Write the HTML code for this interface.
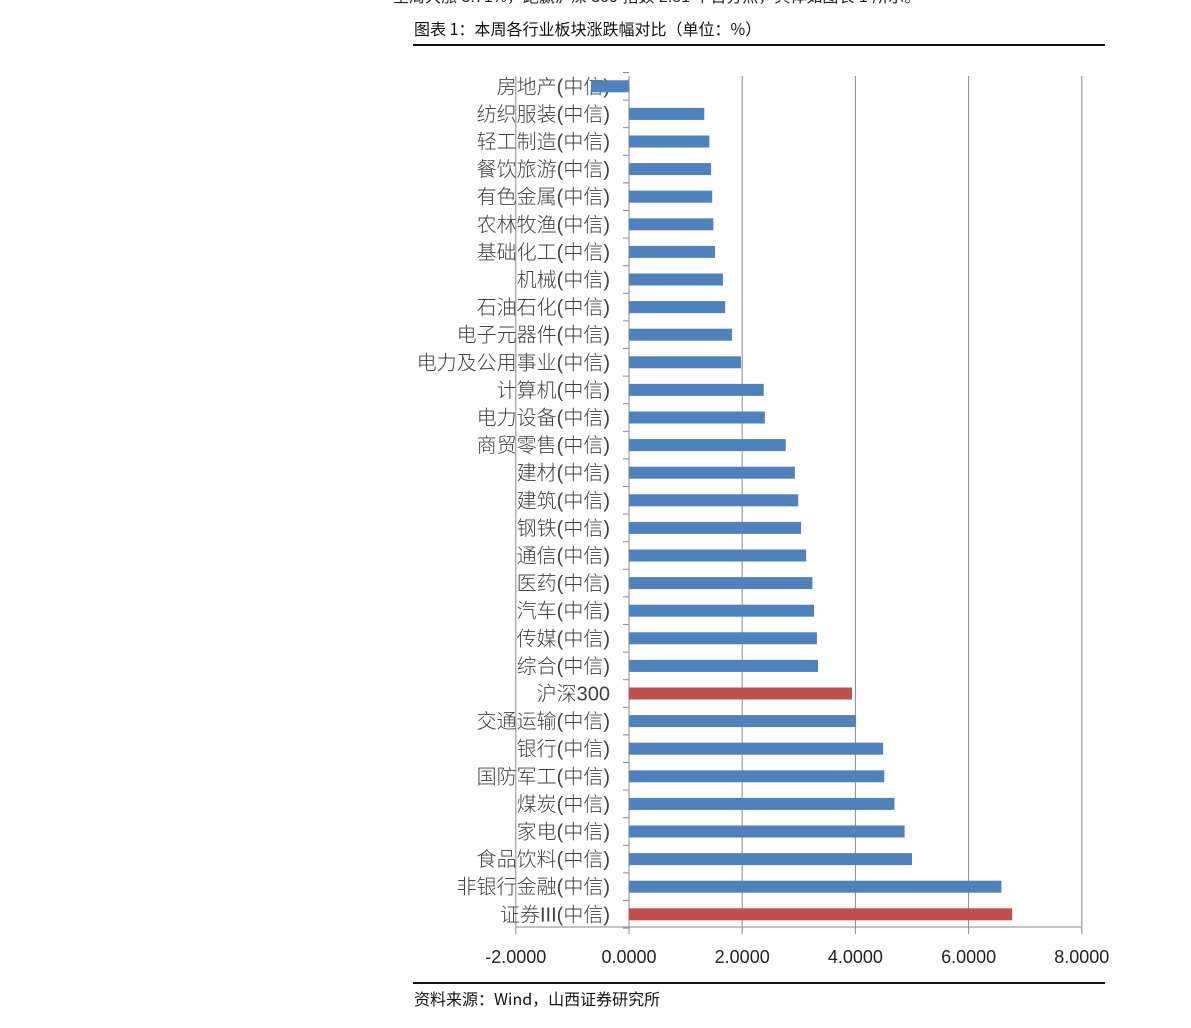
<!DOCTYPE html>
<html><head><meta charset="utf-8"><style>
body{margin:0;background:#fff;}
svg{display:block;}
</style></head><body>
<svg id="s" width="1191" height="1028" xmlns="http://www.w3.org/2000/svg" font-family="Liberation Sans, Noto Sans CJK SC, sans-serif">
<text x="393" y="2" font-size="16" fill="#222">全周大涨 3.71%，跑赢沪深 300 指数 2.81 个百分点，具体如图表 1 所示。</text>
<text x="414" y="35" font-size="16" fill="#111" font-family="Noto Sans CJK SC, sans-serif">图表 1：本周各行业板块涨跌幅对比（单位：%）</text>
<rect x="413" y="44" width="692" height="2" fill="#111"/>
<rect x="413" y="982" width="692" height="2" fill="#111"/>
<text x="414" y="1005" font-size="16" fill="#111" font-family="Noto Sans CJK SC, sans-serif">资料来源：Wind，山西证券研究所</text>
<g id="g"></g>
</svg>
<script>
(function(){
var d=[["房地产(中信)",-0.67],["纺织服装(中信)",1.33],["轻工制造(中信)",1.42],["餐饮旅游(中信)",1.45],["有色金属(中信)",1.47],["农林牧渔(中信)",1.49],["基础化工(中信)",1.52],["机械(中信)",1.66],["石油石化(中信)",1.70],["电子元器件(中信)",1.82],["电力及公用事业(中信)",1.98],["计算机(中信)",2.38],["电力设备(中信)",2.40],["商贸零售(中信)",2.77],["建材(中信)",2.93],["建筑(中信)",2.99],["钢铁(中信)",3.04],["通信(中信)",3.13],["医药(中信)",3.24],["汽车(中信)",3.27],["传媒(中信)",3.32],["综合(中信)",3.34],["沪深300",3.94,1],["交通运输(中信)",4.01],["银行(中信)",4.49],["国防军工(中信)",4.51],["煤炭(中信)",4.69],["家电(中信)",4.87],["食品饮料(中信)",5.00],["非银行金融(中信)",6.58],["证券III(中信)",6.77,1]];
var z=629,u=56.6,y0=72.5,step=27.6,h='';
for(var v=-2;v<=8;v+=2){var x=z+v*u;h+='<line x1="'+x+'" y1="76" x2="'+x+'" y2="934" stroke="#8a8a8a" stroke-width="1"/>';
h+='<text x="'+x+'" y="963" font-size="18" fill="#222" text-anchor="middle">'+v.toFixed(4)+'</text>';}
h+='<line x1="'+(z-2*u)+'" y1="927" x2="'+(z+8*u)+'" y2="927" stroke="#8a8a8a"/>';
for(var i=0;i<=d.length;i++){var y=y0+i*step;h+='<line x1="'+(z-6)+'" y1="'+y+'" x2="'+z+'" y2="'+y+'" stroke="#8a8a8a"/>';}
for(var i=0;i<d.length;i++){var c=y0+i*step+step/2,val=d[i][1],x0=Math.min(z,z+val*u),w=Math.abs(val*u);
h+='<text x="610" y="'+(c+7)+'" font-size="20" fill="#404040" text-anchor="end" font-weight="300">'+d[i][0]+'</text>';
h+='<rect x="'+x0+'" y="'+(c-6)+'" width="'+w+'" height="12" fill="'+(d[i][2]?'#C0504D':'#4F81BD')+'"/>';}
document.getElementById('g').innerHTML=h;
})();
</script>
</body></html>
